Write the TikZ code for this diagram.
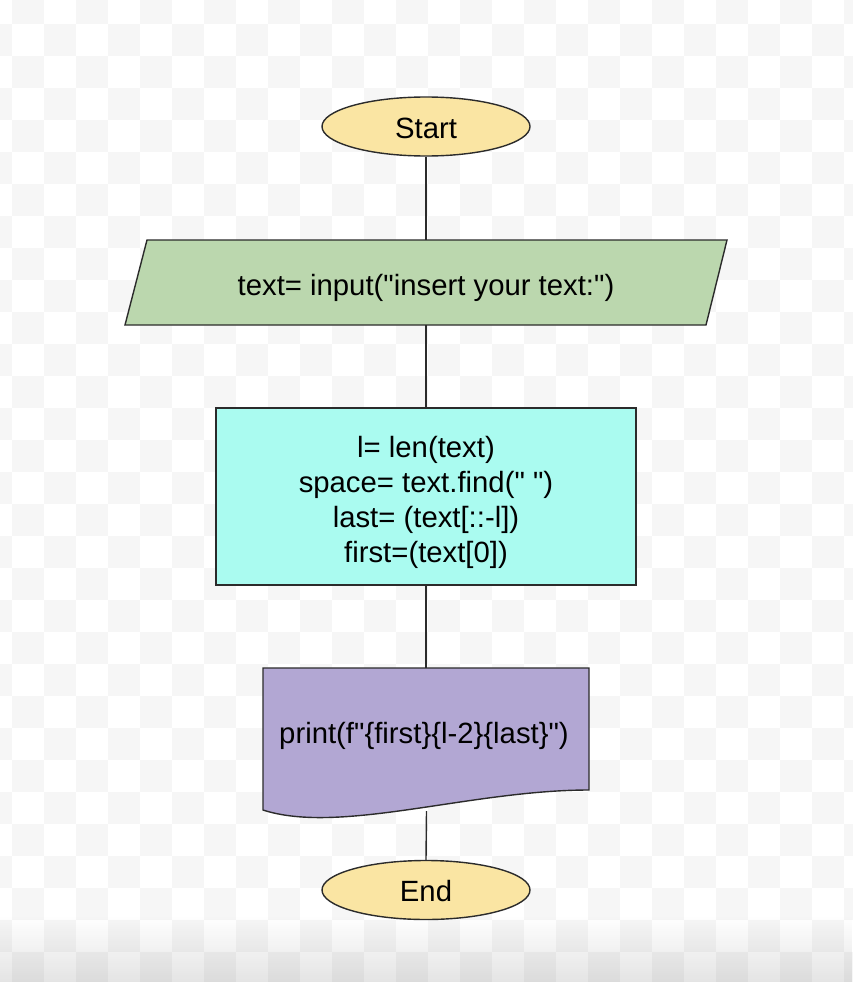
\documentclass[tikz,border=0pt]{standalone}
\usepackage{fontspec}
\setmainfont{Liberation Sans}[Ligatures=TeXOff]
\usetikzlibrary{shapes.geometric}
\definecolor{termfill}{HTML}{FAE5A3}
\definecolor{iofill}{HTML}{BBD7AE}
\definecolor{procfill}{HTML}{AAFBF0}
\definecolor{docfill}{HTML}{B2A7D3}
\definecolor{edge}{HTML}{2B2B2B}
\definecolor{checker}{HTML}{F6F6F6}
\tikzset{
  shapeline/.style={draw=edge, line width=1.4pt},
  term/.style={shapeline, ellipse, fill=termfill, minimum width=208pt, minimum height=59pt, inner sep=0pt},
  procbox/.style={shapeline, rectangle, fill=procfill, minimum width=420pt, minimum height=177pt, inner sep=0pt},
  label/.style={font=\fontsize{29.3}{35}\selectfont, align=center, text=black},
  conn/.style={draw=edge, line width=1.4pt},
}
\begin{document}
\begin{tikzpicture}[x=1pt, y=-1pt]
\useasboundingbox (0,0) rectangle (852,982);
% checkerboard background
\fill[white] (0,0) rectangle (852,982);
\foreach \i in {-1,...,26}{
  \foreach \j in {-1,...,30}{
    \pgfmathtruncatemacro\cellsum{\i+\j+2}
    \ifodd\cellsum
      \fill[checker] ({12+32*\i},{24+32*\j}) rectangle ++(32,32);
    \fi
  }
}
% Start
\node[term] (start) at (426,126.5) {};
\node[label] (starttext) at (426,128) {Start};
% input parallelogram
\draw[shapeline, fill=iofill] (147,240) -- (727,240) -- (706,325) -- (125,325) -- cycle;
\node[label] (inp) at (426,287.5) {text= input("insert your text:")};
\coordinate (inptop) at (426,240);
\coordinate (inpbot) at (426,325);
% process
\node[procbox] (proc) at (426,496.5) {};
\node[label] (proctext) at (426,502) {l= len(text)\\space= text.find(" ")\\last= (text[::-l])\\first=(text[0])};
% document
\draw[shapeline, fill=docfill] (263,668) -- (589,668) -- (589,790) .. controls (470,790) and (340,835) .. (263,810) -- cycle;
\node[label] (doc) at (424,736) {print(f"\{first\}\{l-2\}\{last\}")};
\coordinate (doctop) at (426,668);
\coordinate (docbot) at (426.5,811);
% End
\node[term] (end) at (426,890) {};
\node[label] (endtext) at (426,891.5) {End};
% connectors
\draw[conn] (start.south) -- (inptop);
\draw[conn] (inpbot) -- (proc.north);
\draw[conn] (proc.south) -- (doctop);
\draw[conn] (docbot) -- (end.north);
% bottom fade
\foreach \k in {0,...,33}{
  \pgfmathsetmacro\op{0.0032*\k}
  \fill[black, opacity=\op] (0,{915+2*\k}) rectangle (852,{917+2*\k});
}
\end{tikzpicture}
\end{document}
